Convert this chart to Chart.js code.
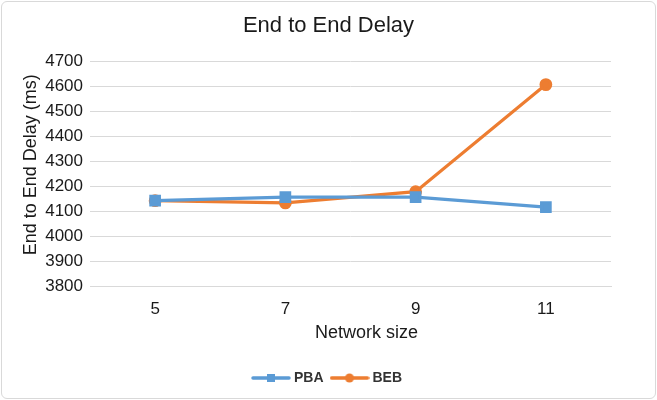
<!DOCTYPE html>
<html><head><meta charset="utf-8">
<script src="https://cdn.jsdelivr.net/npm/chart.js@4"></script>
<style>
html,body{margin:0;padding:0;background:#fff;}
#wrap{position:absolute;left:1px;top:1px;width:653px;height:396px;border:1px solid #d9d9d9;border-radius:6px;overflow:hidden;}
canvas{position:absolute;left:-2px;top:-2px;}
</style></head><body>
<div id="wrap"><canvas id="c" width="657" height="400"></canvas></div>
<script>
const categories = ['5','7','9','11'];
const pbaValues = [4142, 4156, 4156, 4116];
const bebValues = [4142, 4133, 4178, 4607];
const yTicks = [3800,3900,4000,4100,4200,4300,4400,4500,4600,4700];
const seriesNames = ['PBA','BEB'];
const xAxisTitle = 'Network size';
const yAxisTitle = 'End to End Delay (ms)';
const colors = ['#5b9bd5','#ed7d31'];
const FONT = 'Liberation Sans, Arial, sans-serif';
const TXT = '#1a1a1a';

function legendIcon(color, style){
  const cv = document.createElement('canvas');
  cv.width = 40; cv.height = 12;
  const g = cv.getContext('2d');
  g.strokeStyle = color; g.lineWidth = 3.5; g.lineCap='round';
  g.beginPath(); g.moveTo(2,6); g.lineTo(38,6); g.stroke();
  g.fillStyle = color;
  if(style==='rect'){ g.fillRect(16,2,8,8); }
  else { g.beginPath(); g.arc(20,6,4.5,0,Math.PI*2); g.fill(); }
  return cv;
}
const icons = [legendIcon(colors[0],'rect'), legendIcon(colors[1],'circle')];

const axisTitles = {
  id:'axisTitles',
  afterDraw(chart){
    const ctx = chart.ctx, a = chart.chartArea;
    ctx.save();
    ctx.fillStyle = TXT;
    ctx.font = '18px ' + FONT;
    ctx.textAlign = 'center'; ctx.textBaseline = 'middle';
    ctx.fillText(xAxisTitle, (a.left + a.right)/2 + 16, a.bottom + 47);
    ctx.translate(31, (a.top + a.bottom)/2 - 9);
    ctx.rotate(-Math.PI/2);
    ctx.fillText(yAxisTitle, 0, 0);
    ctx.restore();
  }
};

new Chart(document.getElementById('c'), {
  type:'line',
  data:{
    labels: categories,
    datasets:[
      {label:seriesNames[0], data:pbaValues, borderColor:colors[0], backgroundColor:colors[0], borderWidth:3.2, pointStyle:'rect', pointRadius:6, pointHoverRadius:6, tension:0},
      {label:seriesNames[1], data:bebValues, borderColor:colors[1], backgroundColor:colors[1], borderWidth:3.2, pointStyle:'circle', pointRadius:4.8, pointHoverRadius:4.8, tension:0}
    ]
  },
  plugins:[axisTitles],
  options:{
    responsive:false, animation:false, devicePixelRatio:1,
    layout:{padding:{left:0,right:0,top:13,bottom:5}},
    plugins:{
      title:{display:true, text:'End to End Delay', color:TXT, font:{family:FONT, size:22, weight:'normal'}, padding:{top:0,bottom:22}},
      legend:{position:'bottom', labels:{usePointStyle:true, pointStyleWidth:32, color:'#333', font:{family:FONT, size:14, weight:'bold'}, padding:10,
        generateLabels:(chart)=>chart.data.datasets.map((d,i)=>({text:d.label, pointStyle:icons[i], fillStyle:colors[i], strokeStyle:colors[i], lineWidth:0, hidden:false, datasetIndex:i, fontColor:'#333'}))}},
      tooltip:{enabled:false}
    },
    scales:{
      x:{offset:true, grid:{display:false, drawTicks:false}, border:{display:true, color:'#d9d9d9', width:1},
        ticks:{color:TXT, font:{family:FONT, size:17}, padding:13},
        afterFit:(s)=>{s.height = 75;}
      },
      y:{min:3800, max:4700, afterBuildTicks:(s)=>{s.ticks = yTicks.map(v=>({value:v}));},
        grid:{color:'#d9d9d9', drawTicks:false}, border:{display:false},
        ticks:{color:TXT, font:{family:FONT, size:17}, padding:7, callback:(v)=>String(v)},
        afterFit:(s)=>{s.width = 90;}
      },
      yR:{type:'linear', position:'right', display:true, grid:{display:false, drawTicks:false}, ticks:{display:false}, border:{display:false},
        afterFit:(s)=>{s.width = 46;}
      }
    }
  }
});
</script></body></html>
